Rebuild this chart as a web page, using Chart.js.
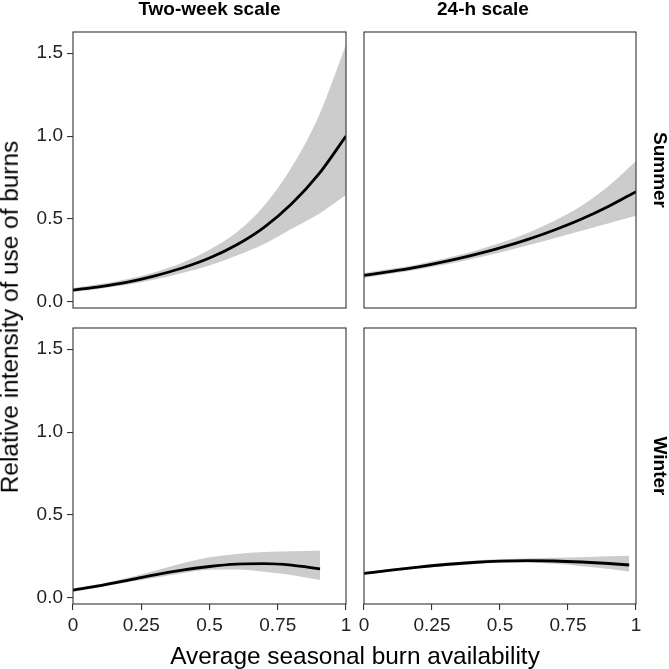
<!DOCTYPE html>
<html>
<head>
<meta charset="utf-8">
<script src="https://cdn.jsdelivr.net/npm/chart.js@4.4.0/dist/chart.umd.min.js"></script>
<style>
  html, body { margin: 0; padding: 0; background: #fff; }
  #wrap { position: relative; width: 669px; height: 669px; overflow: hidden; font-family: "Liberation Sans", Arial, sans-serif; }
  #wrap canvas { position: absolute; left: 0; top: 0; }
  .lbl { position: absolute; white-space: nowrap; line-height: 1; color: #000; }
</style>
</head>
<body>
<div id="wrap">
  <canvas id="p-tl" width="669" height="669"></canvas>
  <canvas id="p-tr" width="669" height="669"></canvas>
  <canvas id="p-bl" width="669" height="669"></canvas>
  <canvas id="p-br" width="669" height="669"></canvas>

  <div class="lbl" style="left:209.5px; top:8px; font-size:19px; font-weight:bold; transform:translate(-50%,-50%)">Two-week scale</div>
  <div class="lbl" style="left:483px; top:8px; font-size:19px; font-weight:bold; transform:translate(-50%,-50%)">24-h scale</div>
  <div class="lbl" style="left:660px; top:170px; font-size:19px; font-weight:bold; transform:translate(-50%,-50%) rotate(90deg)">Summer</div>
  <div class="lbl" style="left:660px; top:466px; font-size:19px; font-weight:bold; transform:translate(-50%,-50%) rotate(90deg)">Winter</div>
  <div class="lbl" style="left:9.5px; top:317px; font-size:24.4px; transform:translate(-50%,-50%) rotate(-90deg)">Relative intensity of use of burns</div>
  <div class="lbl" style="left:355px; top:656px; font-size:24.4px; transform:translate(-50%,-50%)">Average seasonal burn availability</div>
</div>

<script>
var xTicks = [0, 0.25, 0.5, 0.75, 1];
var xTickLabels = ["0", "0.25", "0.5", "0.75", "1"];
var yTicks = [0, 0.5, 1, 1.5];
var yTickLabels = ["0.0", "0.5", "1.0", "1.5"];

// Summer (both scales share these x positions)
var xSummer = [0, 0.1, 0.2, 0.3, 0.4, 0.5, 0.6, 0.7, 0.8, 0.9, 1];
var twoWeekSummerFit  = [0.072, 0.093, 0.12, 0.158, 0.205, 0.265, 0.345, 0.45, 0.59, 0.77, 1.0];
var twoWeekSummerLow  = [0.06, 0.08, 0.104, 0.135, 0.175, 0.22, 0.28, 0.35, 0.44, 0.53, 0.645];
var twoWeekSummerHigh = [0.085, 0.108, 0.138, 0.18, 0.237, 0.315, 0.42, 0.58, 0.81, 1.12, 1.55];
var daySummerFit  = [0.16, 0.185, 0.212, 0.245, 0.283, 0.326, 0.376, 0.434, 0.5, 0.577, 0.665];
var daySummerLow  = [0.145, 0.17, 0.196, 0.226, 0.26, 0.298, 0.34, 0.385, 0.43, 0.475, 0.52];
var daySummerHigh = [0.175, 0.2, 0.228, 0.264, 0.305, 0.355, 0.415, 0.49, 0.58, 0.7, 0.85];

// Winter
var xTwoWeekWinter = [0, 0.1, 0.2, 0.3, 0.4, 0.5, 0.6, 0.7, 0.8, 0.905];
var twoWeekWinterFit  = [0.048, 0.075, 0.107, 0.14, 0.168, 0.19, 0.204, 0.207, 0.198, 0.175];
var twoWeekWinterLow  = [0.038, 0.065, 0.095, 0.122, 0.15, 0.17, 0.172, 0.158, 0.138, 0.108];
var twoWeekWinterHigh = [0.058, 0.085, 0.122, 0.165, 0.21, 0.245, 0.266, 0.277, 0.282, 0.287];
var xDayWinter = [0, 0.1, 0.2, 0.3, 0.4, 0.5, 0.6, 0.7, 0.8, 0.9, 0.975];
var dayWinterFit  = [0.148, 0.168, 0.186, 0.202, 0.214, 0.222, 0.225, 0.223, 0.217, 0.208, 0.199];
var dayWinterLow  = [0.14, 0.16, 0.178, 0.193, 0.204, 0.212, 0.213, 0.206, 0.192, 0.175, 0.16];
var dayWinterHigh = [0.156, 0.176, 0.195, 0.212, 0.225, 0.233, 0.238, 0.242, 0.246, 0.251, 0.255];

var fontFam = '"Liberation Sans", Arial, sans-serif';

// box around each panel
var frame = {
  id: 'frame',
  afterDatasetsDraw: function(chart) {
    var a = chart.chartArea, c = chart.ctx;
    c.save();
    c.strokeStyle = '#333';
    c.lineWidth = 1.1;
    c.strokeRect(a.left, a.top, a.right - a.left, a.bottom - a.top);
    c.restore();
  }
};

function axisX(show) {
  return {
    type: 'linear', min: 0, max: 1, display: show,
    afterBuildTicks: function(a) { a.ticks = xTicks.map(function(v) { return {value: v}; }); },
    afterFit: function(a) { a.height = show ? 40 : 0; },
    border: { display: false },
    grid: { drawOnChartArea: false, drawTicks: true, tickLength: 6, color: '#333', lineWidth: 1.1 },
    ticks: {
      autoSkip: false, maxRotation: 0, padding: 4, color: '#222',
      font: { family: fontFam, size: 19 },
      callback: function(v, i) { return xTickLabels[i]; }
    }
  };
}

function axisY(show) {
  return {
    type: 'linear', min: -0.036, max: 1.627, display: show,
    afterBuildTicks: function(a) { a.ticks = yTicks.map(function(v) { return {value: v}; }); },
    afterFit: function(a) { a.width = show ? 73 : 0; },
    border: { display: false },
    grid: { drawOnChartArea: false, drawTicks: true, tickLength: 6, color: '#333', lineWidth: 1.1 },
    ticks: {
      autoSkip: false, padding: 4, color: '#222',
      font: { family: fontFam, size: 19 },
      callback: function(v, i) { return yTickLabels[i]; }
    }
  };
}

function panel(id, xs, fit, low, high, pad, showX, showY) {
  var pts = function(ys) { return xs.map(function(x, i) { return {x: x, y: ys[i]}; }); };
  return new Chart(document.getElementById(id), {
    type: 'line',
    data: {
      datasets: [
        { data: pts(high), order: 2, borderColor: 'rgba(0,0,0,0)', borderWidth: 0, pointRadius: 0, fill: '+1', backgroundColor: '#cccccc' },
        { data: pts(low), order: 2, borderColor: 'rgba(0,0,0,0)', borderWidth: 0, pointRadius: 0, fill: false },
        { data: pts(fit), order: 1, borderColor: '#000', borderWidth: 2.8, pointRadius: 0, fill: false }
      ]
    },
    options: {
      responsive: false,
      animation: false,
      devicePixelRatio: 1,
      layout: { padding: pad },
      elements: { line: { cubicInterpolationMode: 'monotone' } },
      plugins: { legend: { display: false }, tooltip: { enabled: false } },
      scales: { x: axisX(showX), y: axisY(showY) }
    },
    plugins: [frame]
  });
}

panel('p-tl', xSummer, twoWeekSummerFit, twoWeekSummerLow, twoWeekSummerHigh, {left: 0, top: 32, right: 323, bottom: 361}, false, true);
panel('p-tr', xSummer, daySummerFit, daySummerLow, daySummerHigh, {left: 364, top: 32, right: 33, bottom: 361}, false, false);
panel('p-bl', xTwoWeekWinter, twoWeekWinterFit, twoWeekWinterLow, twoWeekWinterHigh, {left: 0, top: 328, right: 323, bottom: 25}, true, true);
panel('p-br', xDayWinter, dayWinterFit, dayWinterLow, dayWinterHigh, {left: 364, top: 328, right: 33, bottom: 25}, true, false);
</script>
</body>
</html>
